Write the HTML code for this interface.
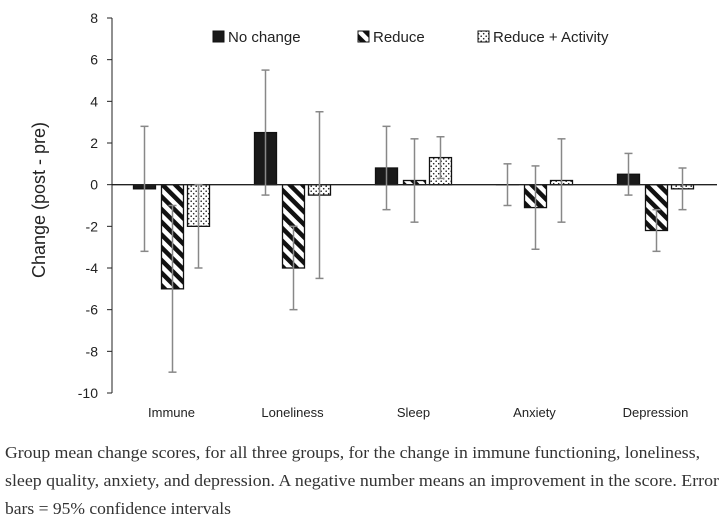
<!DOCTYPE html>
<html><head><meta charset="utf-8"><style>
body{margin:0;background:#fff;width:725px;height:525px;overflow:hidden}
svg{position:absolute;left:0;top:0}
</style></head><body>
<svg width="725" height="525">
<defs>
<pattern id="hatch" patternUnits="userSpaceOnUse" width="9" height="9" patternTransform="rotate(-45)">
<rect width="9" height="9" fill="#fff"/><rect width="4.5" height="9" fill="#111"/></pattern>
<pattern id="dots" patternUnits="userSpaceOnUse" width="5" height="5">
<rect width="5" height="5" fill="#fff"/><circle cx="1.2" cy="1.2" r="0.8" fill="#222"/><circle cx="3.7" cy="3.7" r="0.8" fill="#222"/></pattern>
</defs>
<g id="g"></g>
<g font-family="Liberation Serif,serif" font-size="17" fill="#333">
<text x="5" y="458" textLength="695" lengthAdjust="spacingAndGlyphs">Group mean change scores, for all three groups, for the change in immune functioning, loneliness,</text>
<text x="5" y="486" textLength="714" lengthAdjust="spacingAndGlyphs">sleep quality, anxiety, and depression. A negative number means an improvement in the score. Error</text>
<text x="5" y="514" textLength="226" lengthAdjust="spacingAndGlyphs">bars = 95% confidence intervals</text>
</g>
</svg>
<script>
const categories=["Immune","Loneliness","Sleep","Anxiety","Depression"];
const seriesNames=["No change","Reduce","Reduce + Activity"];
const noChange=[-0.2,2.5,0.8,0,0.5];
const reduce=[-5,-4,0.2,-1.1,-2.2];
const reduceAct=[-2,-0.5,1.3,0.2,-0.2];
const errNoChange=[3,3,2,1,1];
const errReduce=[4,2,2,2,1];
const errReduceAct=[2,4,1,2,1];
const yTicks=[8,6,4,2,0,-2,-4,-6,-8,-10];
const NS="http://www.w3.org/2000/svg";
const g=document.getElementById('g');
const x0=112,x1=717,yTop=18,yBot=393,vmax=8,vmin=-10;
const y=v=>yTop+(vmax-v)/(vmax-vmin)*(yBot-yTop);
const bw=(x1-x0)/categories.length;
function mk(t,a){const e=document.createElementNS(NS,t);for(const k in a)e.setAttribute(k,a[k]);g.appendChild(e);return e;}
const fills=["#1a1a1a","url(#hatch)","url(#dots)"];
const vals=[noChange,reduce,reduceAct],errs=[errNoChange,errReduce,errReduceAct];
let ax=mk('line',{x1:x0,x2:x0,y1:yTop,y2:yBot,stroke:'#222','stroke-width':1});

yTicks.forEach(v=>{
 let t=mk('line',{x1:x0-5,x2:x0,y1:y(v),y2:y(v),stroke:'#222'});
 
 let l=mk('text',{x:x0-14,y:y(v)+5,'text-anchor':'end','font-family':'Liberation Sans,sans-serif','font-size':14,fill:'#222'});
 l.textContent=v;
});
let yt=mk('text',{x:0,y:0,transform:'translate(45,200) rotate(-90)','text-anchor':'middle','font-family':'Liberation Sans,sans-serif','font-size':18,fill:'#222'});
yt.textContent='Change (post - pre)';
const barW=22,offs=[-38,-10,16];
categories.forEach((c,i)=>{
 const cx=x0+bw*(i+0.5)-1;
 vals.forEach((arr,s)=>{
  const v=arr[i],bx=cx+offs[s];
  const r=mk('rect',{x:bx,y:Math.min(y(v),y(0)),width:barW,height:Math.max(Math.abs(y(v)-y(0)),0.01),fill:fills[s],stroke:'#111','stroke-width':1.3});
  
 });
});
let zl=mk('line',{x1:x0,x2:x1,y1:y(0),y2:y(0),stroke:'#222','stroke-width':1.3});

categories.forEach((c,i)=>{
 const cx=x0+bw*(i+0.5)-1;
 vals.forEach((arr,s)=>{
  const v=arr[i],e=errs[s][i],ex=cx+offs[s]+barW/2;
  const eg=[['line',{x1:ex,x2:ex,y1:y(v+e),y2:y(v-e)}],['line',{x1:ex-4,x2:ex+4,y1:y(v+e),y2:y(v+e)}],['line',{x1:ex-4,x2:ex+4,y1:y(v-e),y2:y(v-e)}]];
  eg.forEach(([t,a])=>{a.stroke='#888';a['stroke-width']=1.5;const el=mk(t,a);});
 });
 let l=mk('text',{x:cx,y:417,'text-anchor':'middle','font-family':'Liberation Sans,sans-serif','font-size':13,fill:'#222'});
 l.textContent=c;
});
const lx=[213,358,478];
seriesNames.forEach((n,s)=>{
 let r=mk('rect',{x:lx[s],y:31,width:11,height:11,fill:fills[s],stroke:'#111'});
 
 let t=mk('text',{x:lx[s]+15,y:42,'font-family':'Liberation Sans,sans-serif','font-size':15,fill:'#222'});
 t.textContent=n;
});
</script>
</body></html>
